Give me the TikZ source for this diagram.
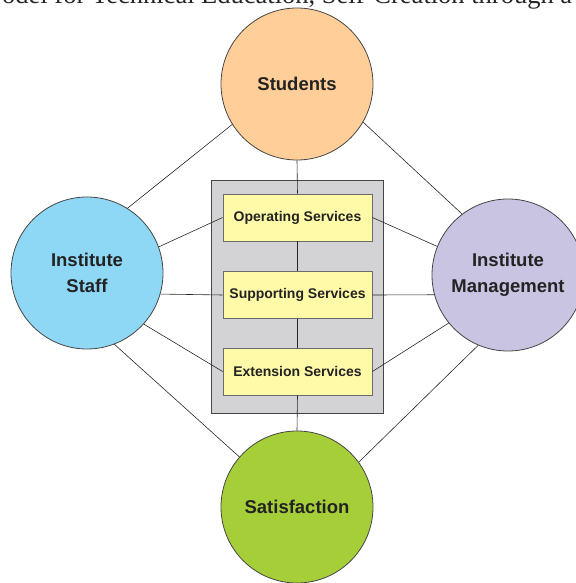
\documentclass[tikz,border=0pt]{standalone}
\usepackage{fontspec}
\setmainfont{Liberation Sans}
\newfontfamily\capfont{Liberation Serif}
\definecolor{cStu}{RGB}{255,206,153}
\definecolor{cStaff}{RGB}{142,216,246}
\definecolor{cMgmt}{RGB}{200,196,226}
\definecolor{cSat}{RGB}{166,206,57}
\definecolor{cPanel}{RGB}{211,211,214}
\definecolor{cBox}{RGB}{255,250,168}
\definecolor{cTxt}{RGB}{35,35,35}
\definecolor{cEdge}{RGB}{70,70,70}
\begin{document}
\begin{tikzpicture}[x=1bp,y=-1bp,
  bigcirc/.style={circle,draw=cEdge,line width=0.8bp,minimum size=152bp,inner sep=0pt,
    text=cTxt,font=\fontsize{18.5bp}{26bp}\selectfont\bfseries,align=center},
  svcbox/.style={rectangle,draw=cEdge!80,line width=0.8bp,fill=cBox,minimum width=149bp,
    minimum height=47bp,inner sep=0pt,text=cTxt,font=\fontsize{14bp}{16bp}\selectfont\bfseries},
  link/.style={draw=black!85,line width=0.6bp}]
\clip (0,0) rectangle (576,583);
\node[font=\fontsize{26.5bp}{30bp}\selectfont\capfont,anchor=base west,inner sep=0pt,text=black!85] (cap) at (2,4) {odel for Technical Education, Self-Creation through a};
\node[rectangle,draw=cEdge,line width=0.9bp,fill=cPanel,minimum width=172bp,minimum height=233bp,inner sep=0pt] (panel) at (297,296.5) {};
\node[bigcirc,fill=cStu] (stu) at (297,84) {Students};
\node[bigcirc,fill=cStaff] (staff) at (87,273) {Institute\\Staff};
\node[bigcirc,fill=cMgmt] (mgmt) at (508,275) {Institute\\Management};
\node[bigcirc,fill=cSat] (sat) at (297,507) {Satisfaction};
\node[svcbox] (op) at (297.5,217.5) {Operating Services};
\node[svcbox] (sup) at (297.5,295) {Supporting Services};
\node[svcbox] (ext) at (297.5,371.5) {Extension Services};
\path[link] (stu.212) -- (staff.58);
\path[link] (stu.330) -- (mgmt.127);
\path[link] (staff.291) -- (sat.139);
\path[link] (mgmt.247) -- (sat.36);
\path[link] (stu.south) -- (op.north);
\path[link] (op.south) -- (sup.north);
\path[link] (sup.south) -- (ext.north);
\path[link] (ext.south) -- (sat.north);
\path[link] (staff.20) -- (op.west);
\path[link] (staff.-16.8) -- (sup.west);
\path[link] (staff.-42) -- (ext.west);
\path[link] (mgmt.158) -- (op.east);
\path[link] (mgmt.195.3) -- (sup.east);
\path[link] (mgmt.219.6) -- (ext.east);
\end{tikzpicture}
\end{document}
